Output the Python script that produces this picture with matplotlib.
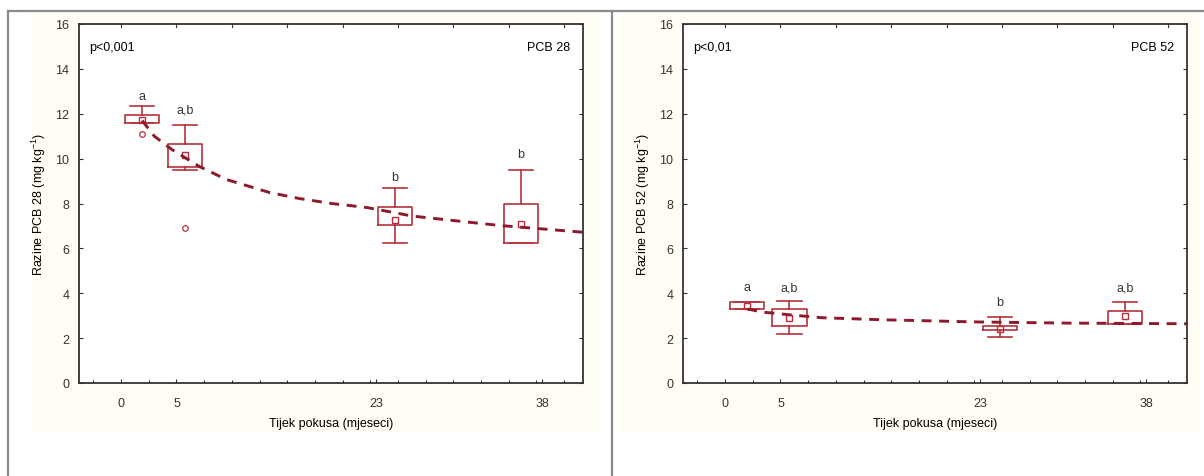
import matplotlib.pyplot as plt
from matplotlib.lines import Line2D
from matplotlib.patches import Rectangle

plt.rcParams['font.family'] = ['Liberation Sans', 'DejaVu Sans']
plt.rcParams['font.size'] = 9

# Podaci ocitani sa slike
months_ticks = [0, 5, 23, 38]
box_pos_28 = [1.9, 5.75, 24.7, 36.1]
box_pos_52 = [2.0, 5.8, 24.8, 36.1]

# PCB 28: medijan, 25%, 75%, min, max, outlieri
med_28 = [11.72, 10.15, 7.28, 7.1]
q1_28 = [11.6, 9.62, 7.04, 6.22]
q3_28 = [11.96, 10.67, 7.84, 8.0]
lo_28 = [11.6, 9.48, 6.22, 6.22]
hi_28 = [12.34, 11.48, 8.71, 9.48]
out_28 = [[11.1], [6.9], [], []]
let_28 = ['a', 'a,b', 'b', 'b']
let_y_28 = [12.8, 12.2, 9.2, 10.2]

# PCB 52
med_52 = [3.42, 2.88, 2.42, 3.0]
q1_52 = [3.29, 2.56, 2.37, 2.64]
q3_52 = [3.59, 3.31, 2.56, 3.19]
lo_52 = [3.29, 2.2, 2.06, 2.64]
hi_52 = [3.59, 3.64, 2.92, 3.6]
out_52 = [[], [], [], []]
let_52 = ['a', 'a,b', 'b', 'a,b']
let_y_52 = [4.27, 4.27, 3.6, 4.27]

# krivulje trenda (ocitane tocke)
fit_x_28 = [1.9, 3.0, 4.6, 7.1, 9.5, 13.4, 16.1, 19.0, 22.2, 26.3, 30.0, 34.2, 37.2, 41.7]
fit_y_28 = [11.7, 11.0, 10.4, 9.64, 9.07, 8.49, 8.22, 8.0, 7.82, 7.44, 7.24, 7.02, 6.9, 6.72]
fit_x_52 = [2.0, 3.4, 5.8, 8.7, 14.1, 22.8, 30.9, 41.8]
fit_y_52 = [3.3, 3.16, 3.04, 2.91, 2.82, 2.72, 2.67, 2.64]

box_col = '#b5313a'
line_col = '#8c1a2c'


def draw_panel(ax, pos, med, q1, q3, lo, hi, out, letters, let_y, fx, fy, ptxt, name):
    stats = []
    for i in range(len(pos)):
        stats.append({'med': med[i], 'q1': q1[i], 'q3': q3[i],
                      'whislo': lo[i], 'whishi': hi[i], 'fliers': out[i]})
    ax.bxp(stats, positions=pos, widths=3.1, showfliers=True, manage_ticks=False,
           boxprops=dict(color=box_col, linewidth=1.2),
           whiskerprops=dict(color=box_col, linewidth=1.2),
           capprops=dict(color=box_col, linewidth=1.2),
           medianprops=dict(linewidth=0),
           flierprops=dict(marker='o', markersize=4, markerfacecolor='none',
                           markeredgecolor=box_col, markeredgewidth=0.9),
           capwidths=2.2)
    ax.plot(pos, med, linestyle='none', marker='s', markersize=4,
            markerfacecolor='none', markeredgecolor=box_col, markeredgewidth=1)
    ax.plot(fx, fy, color=line_col, linewidth=2.1, dashes=(3.4, 2.6))
    for x, y, t in zip(pos, let_y, letters):
        ax.text(x, y, t, ha='center', va='center', fontsize=9, color='#333333')

    ax.set_xlim(-3.8, 41.7)
    ax.set_ylim(0, 16)
    ax.set_xticks(months_ticks)
    ax.set_xticks([i * 2.5 for i in range(-1, 17)], minor=True)
    ax.set_yticks(range(0, 17, 2))
    ax.tick_params(direction='in', length=3, width=0.8, colors='#333333',
                   top=False, right=True, labelsize=9)
    ax.tick_params(axis='y', pad=7)
    ax.tick_params(axis='x', pad=10)
    ax.tick_params(axis='x', which='minor', direction='in', length=2, width=0.6, top=False)
    for x in range(0, 42, 5):
        ax.plot([x, x], [16, 15.88], color='#333333', linewidth=0.8, clip_on=False)
    for s in ax.spines.values():
        s.set_linewidth(1.3)
        s.set_color('#333333')
    ax.set_xlabel('Tijek pokusa (mjeseci)', fontsize=9, labelpad=6)
    ax.set_ylabel(r'Razine ' + name + r' (mg kg$^{\mathregular{-1}}$)', fontsize=9, labelpad=5)
    ax.text(0.02, 0.935, ptxt, transform=ax.transAxes, fontsize=9, va='center')
    ax.text(0.975, 0.935, name, transform=ax.transAxes, fontsize=9, va='center', ha='right')


fig = plt.figure(figsize=(12.04, 4.77), dpi=100)

# blaga bez pozadina oko grafova
fig.patches.append(Rectangle((30 / 1204, 1 - 433 / 477), 570 / 1204, 421 / 477,
                             transform=fig.transFigure, facecolor='#fffdf4',
                             edgecolor='none', zorder=-10))
fig.patches.append(Rectangle((620 / 1204, 1 - 433 / 477), 580 / 1204, 421 / 477,
                             transform=fig.transFigure, facecolor='#fffdf4',
                             edgecolor='none', zorder=-10))

ax1 = fig.add_axes([79 / 1204, 1 - 384 / 477, 504 / 1204, 359 / 477])
ax2 = fig.add_axes([683 / 1204, 1 - 384 / 477, 504 / 1204, 359 / 477])

draw_panel(ax1, box_pos_28, med_28, q1_28, q3_28, lo_28, hi_28, out_28,
           let_28, let_y_28, fit_x_28, fit_y_28, 'p<0,001', 'PCB 28')
draw_panel(ax2, box_pos_52, med_52, q1_52, q3_52, lo_52, hi_52, out_52,
           let_52, let_y_52, fit_x_52, fit_y_52, 'p<0,01', 'PCB 52')

# okviri panela
frame = dict(color='#8a8a8a', linewidth=1.6, transform=fig.transFigure)
fig.add_artist(Line2D([8 / 1204, 1], [1 - 12 / 477] * 2, **frame))
fig.add_artist(Line2D([8 / 1204] * 2, [0, 1 - 12 / 477], **frame))
fig.add_artist(Line2D([612 / 1204] * 2, [0, 1 - 12 / 477], **frame))

fig.savefig('out.png', dpi=100)
